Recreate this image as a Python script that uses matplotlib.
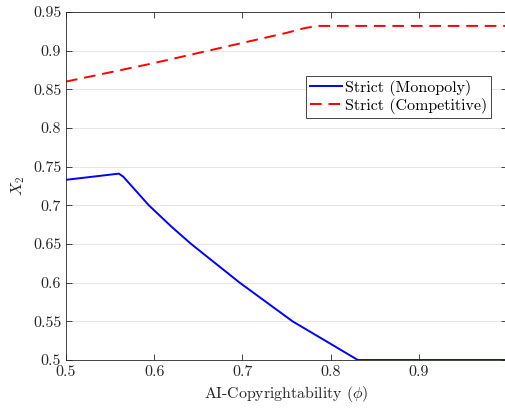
import matplotlib
matplotlib.use('Agg')
import matplotlib.pyplot as plt

plt.rcParams['font.family'] = 'serif'
plt.rcParams['font.serif'] = ['cmr10']
plt.rcParams['mathtext.fontset'] = 'cm'
plt.rcParams['axes.formatter.use_mathtext'] = True

# Strict (Monopoly)
mono_x = [0.5, 0.56, 0.565, 0.594, 0.62, 0.642, 0.697, 0.757, 0.80, 0.831, 1.0]
mono_y = [0.733, 0.741, 0.737, 0.700, 0.672, 0.650, 0.600, 0.550, 0.521, 0.500, 0.500]

# Strict (Competitive)
comp_x = [0.5, 0.6, 0.7, 0.75, 0.77, 0.785, 1.0]
comp_y = [0.860, 0.884, 0.910, 0.923, 0.929, 0.932, 0.932]

xticks = [0.5, 0.6, 0.7, 0.8, 0.9]
xtick_labels = ['0.5', '0.6', '0.7', '0.8', '0.9']
yticks = [0.5, 0.55, 0.6, 0.65, 0.7, 0.75, 0.8, 0.85, 0.9, 0.95]
ytick_labels = ['0.5', '0.55', '0.6', '0.65', '0.7', '0.75', '0.8', '0.85', '0.9', '0.95']

fig = plt.figure(figsize=(5.05, 4.08), dpi=100)
ax = fig.add_axes([0.1307, 0.1176, 0.873, 0.853])

ax.plot(mono_x, mono_y, color='#0000ff', lw=1.4, label='Strict (Monopoly)')
ax.plot(comp_x, comp_y, color='#ff0000', lw=1.4, ls=(0, (6, 3.5)), label='Strict (Competitive)')

ax.set_xlim(0.5, 1.0)
ax.set_ylim(0.5, 0.95)
ax.set_xticks(xticks)
ax.set_xticklabels(xtick_labels)
ax.set_yticks(yticks)
ax.set_yticklabels(ytick_labels)

ax.grid(True, axis='y', color='#e0e0e0', lw=0.6)
ax.set_axisbelow(True)
ax.tick_params(direction='in', top=True, right=True, labelsize=11.5, colors='#262626', length=4, width=0.6)
for s in ax.spines.values():
    s.set_color('#262626')
    s.set_linewidth(0.6)

ax.set_xlabel(r'AI-Copyrightability ($\phi$)', fontsize=11.4, color='#262626')
ax.set_ylabel(r'$X_2$', fontsize=11.4, color='#262626')

leg = ax.legend(loc='upper right', bbox_to_anchor=(0.964, 0.816), borderaxespad=0,
                fontsize=11.5, fancybox=False, edgecolor='#262626', framealpha=1,
                handlelength=2.0, borderpad=0.25, labelspacing=0.1, handletextpad=0.2)
leg.get_frame().set_linewidth(0.6)

fig.savefig('out.png', dpi=100)
